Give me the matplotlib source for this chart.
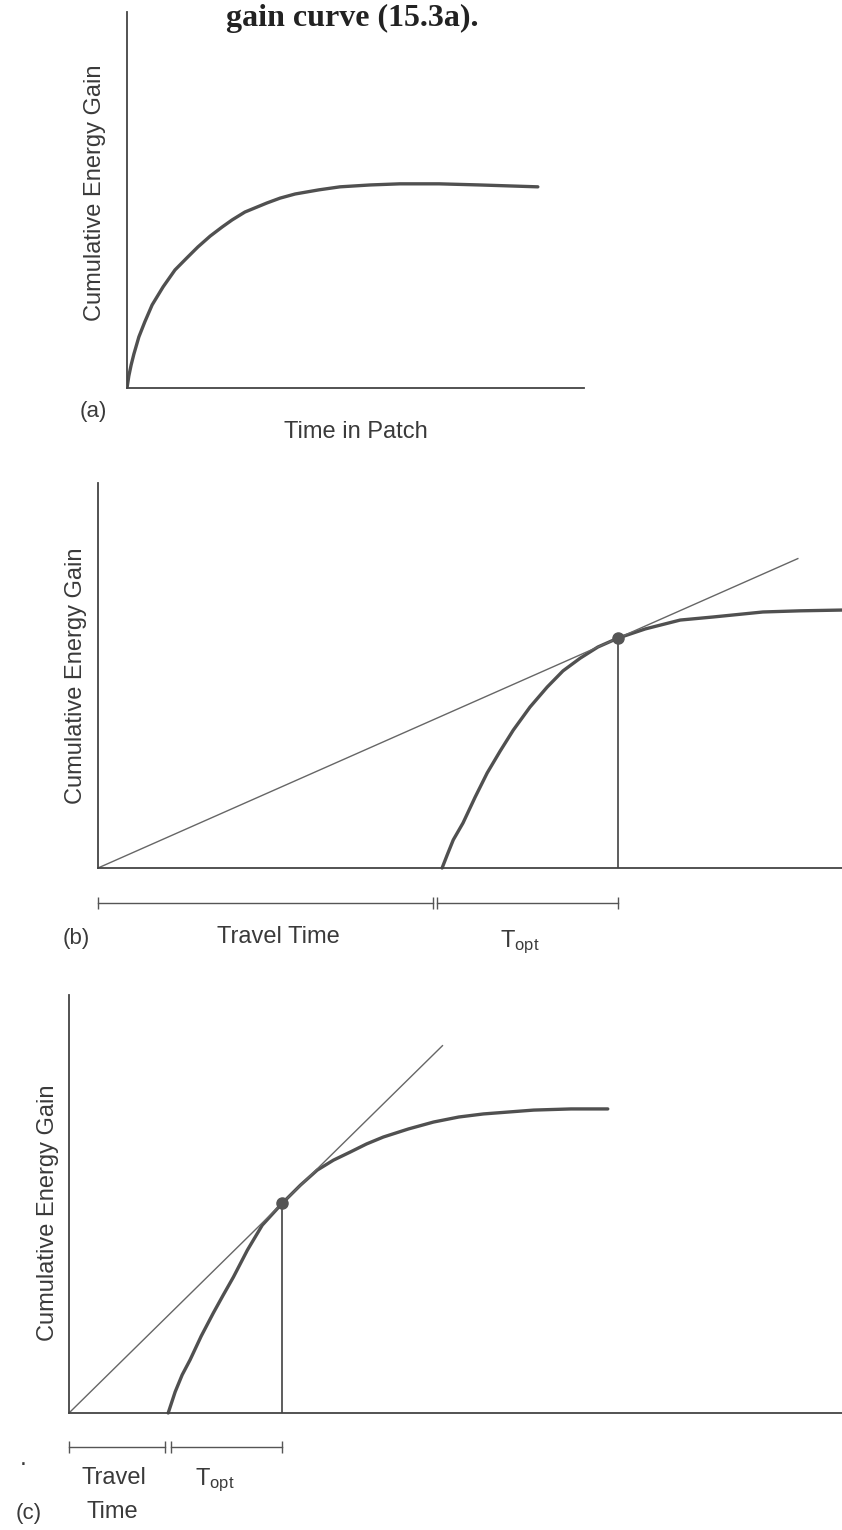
import matplotlib.pyplot as plt
import numpy as np

plt.rcParams['font.family'] = ['Liberation Sans', 'DejaVu Sans']
plt.rcParams['mathtext.fontset'] = 'custom'
plt.rcParams['mathtext.rm'] = 'Liberation Sans'
plt.rcParams['mathtext.it'] = 'Liberation Sans:italic'

# (a) gain curve: time in patch vs cumulative gain
time_a = [0, 0.04, 0.09, 0.15, 0.26, 0.39, 0.55, 0.79, 1.05, 1.31, 1.55, 1.82, 2.08,
          2.30, 2.58, 2.84, 3.06, 3.35, 3.68, 4.20, 4.66, 5.32, 5.97, 6.83, 7.72, 8.99]
gain_a = [0, 0.32, 0.61, 0.90, 1.36, 1.76, 2.21, 2.69, 3.14, 3.46, 3.75, 4.04, 4.28,
          4.47, 4.68, 4.81, 4.92, 5.05, 5.16, 5.27, 5.35, 5.40, 5.43, 5.43, 5.40, 5.35]

# (b) long travel time; curve times are time since arriving in the patch
travel_b = 7.40
patch_time_b = [0, 0.11, 0.24, 0.45, 0.71, 0.97, 1.25, 1.53, 1.89, 2.26, 2.60, 2.97,
                3.35, 3.78, 4.37, 5.12, 5.83, 6.90, 7.70, 8.60]
gain_b = [0, 0.34, 0.73, 1.17, 1.84, 2.47, 3.04, 3.58, 4.18, 4.70, 5.12, 5.45,
          5.74, 5.97, 6.21, 6.44, 6.52, 6.65, 6.68, 6.70]
topt_b = 3.78

# (c) short travel time
travel_c = 2.13
patch_time_c = [0, 0.15, 0.30, 0.47, 0.71, 0.97, 1.18, 1.40, 1.70, 2.02, 2.45, 2.84,
                3.20, 3.55, 3.91, 4.26, 4.62, 5.16, 5.70, 6.24, 6.77, 7.85, 8.65, 9.44]
gain_c = [0, 0.55, 0.99, 1.38, 2.00, 2.60, 3.06, 3.53, 4.23, 4.88, 5.45, 5.92,
          6.31, 6.57, 6.78, 6.99, 7.17, 7.38, 7.56, 7.69, 7.77, 7.87, 7.90, 7.90]
topt_c = 2.45

W, H = 842, 1530
CURVE = '#505050'
INK = '#3a3a3a'
LABEL = 'Cumulative Energy Gain'

fig = plt.figure(figsize=(W / 100, H / 100), dpi=100)


def panel(x0, y_bottom, x1, y_top, xlim, ylim):
    """Axes placed by pixel box (origin = lower left corner of the drawing)."""
    ax = fig.add_axes([x0 / W, 1 - y_bottom / H, (x1 - x0) / W, (y_bottom - y_top) / H])
    ax.set_xlim(*xlim)
    ax.set_ylim(*ylim)
    ax.set_xticks([])
    ax.set_yticks([])
    for s in ('top', 'right'):
        ax.spines[s].set_visible(False)
    for s in ('left', 'bottom'):
        ax.spines[s].set_color('#444444')
        ax.spines[s].set_linewidth(1.3)
    ax.patch.set_alpha(0)
    return ax


def bracket(ax, start, end, y):
    ax.plot([start, end], [y, y], color='#555555', lw=1.0, clip_on=False)
    ax.plot([start, end], [y, y], ls='none', marker='|', ms=8, mew=1.0,
            color='#555555', clip_on=False)


def optimum(ax, travel, patch_time, gain, topt, line_end):
    t = np.array(patch_time) + travel
    ax.plot(t, gain, color=CURVE, lw=2.4, solid_capstyle='round',
            solid_joinstyle='round', clip_on=False)
    opt_t, opt_g = travel + topt, gain[patch_time.index(topt)]
    slope = opt_g / opt_t
    ax.plot([0, line_end], [0, slope * line_end], color='#666666', lw=1.0)
    ax.plot([opt_t, opt_t], [0, opt_g], color='#505050', lw=1.3)
    ax.plot(opt_t, opt_g, 'o', color='#555555', ms=8, zorder=5)
    return opt_t


def px(x, y):
    return x / W, 1 - y / H


# top line of the page text, cut off by the scan
fig.text(*px(478, 26), 'gain curve (15.3a).', ha='right', va='baseline',
         family='Liberation Serif', fontsize=23, fontweight='bold', color='#222222')

# ---- (a)
ax = panel(127, 388, 584, 12, (0, 10), (0, 10))
ax.plot(time_a, gain_a, color=CURVE, lw=2.4, solid_capstyle='round', solid_joinstyle='round')
ax.set_ylabel(LABEL, fontsize=17, color=INK)
ax.yaxis.set_label_coords(-0.046, 0.52)
fig.text(*px(93, 412), '(a)', ha='center', va='center', fontsize=16, color=INK)
fig.text(*px(356, 432), 'Time in Patch', ha='center', va='center', fontsize=17, color=INK)

# ---- (b)
ax = panel(98, 868, 842, 483, (0, 16), (0, 10))
opt_t = optimum(ax, travel_b, patch_time_b, gain_b, topt_b, 15.05)
bracket(ax, 0, travel_b - 0.2, -0.91)
bracket(ax, travel_b - 0.12, opt_t, -0.91)
ax.set_ylabel(LABEL, fontsize=17, color=INK)
ax.yaxis.set_label_coords(-0.015, 0.50)
fig.text(*px(76, 938), '(b)', ha='center', va='center', fontsize=16, color=INK)
fig.text(*px(278, 937), 'Travel Time', ha='center', va='center', fontsize=17, color=INK)
fig.text(*px(520, 942), r'T$_{\rm opt}$', ha='center', va='center', fontsize=17, color=INK)

# ---- (c)
ax = panel(69, 1413, 842, 995, (0, 16.6), (0, 10.86))
opt_t = optimum(ax, travel_c, patch_time_c, gain_c, topt_c, 8.02)
bracket(ax, 0, travel_c - 0.06, -0.88)
bracket(ax, travel_c + 0.06, opt_t, -0.88)
ax.set_ylabel(LABEL, fontsize=17, color=INK)
ax.yaxis.set_label_coords(-0.0135, 0.48)
fig.text(*px(23, 1458), '.', ha='center', va='center', fontsize=18, color=INK)
fig.text(*px(114, 1478), 'Travel', ha='center', va='center', fontsize=17, color=INK)
fig.text(*px(112, 1512), 'Time', ha='center', va='center', fontsize=17, color=INK)
fig.text(*px(215, 1480), r'T$_{\rm opt}$', ha='center', va='center', fontsize=17, color=INK)
fig.text(*px(29, 1514), '(c)', ha='center', va='center', fontsize=16, color=INK)

fig.savefig('out.png', dpi=100)
